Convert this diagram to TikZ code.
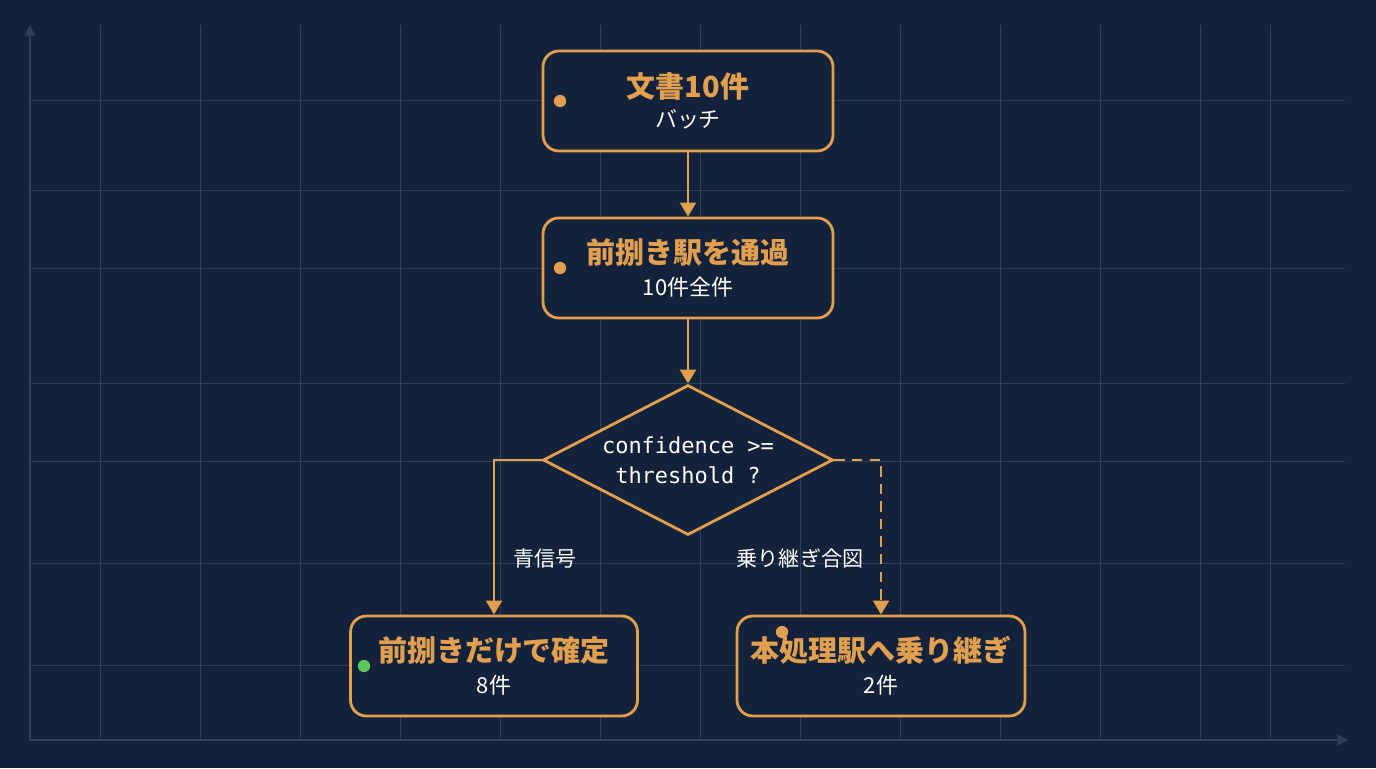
\documentclass[tikz,border=0pt]{standalone}
\usepackage{fontspec}
\setmainfont{Noto Sans CJK JP}
\newfontfamily\monofont{DejaVu Sans Mono}
\usetikzlibrary{shapes.geometric,arrows.meta,positioning}
\definecolor{bgc}{HTML}{14213A}
\definecolor{gridc}{HTML}{2E3F5A}
\definecolor{accent}{HTML}{E0A050}
\definecolor{okc}{HTML}{5CC85C}
\begin{document}
\begin{tikzpicture}[x=0.02cm, y=-0.02cm,
  box/.style={draw=accent, line width=1.6pt, rounded corners=9pt, fill=bgc, minimum width=5.8cm, minimum height=2cm, align=center, text=white},
  dec/.style={draw=accent, line width=1.6pt, diamond, aspect=1.93, fill=bgc, minimum width=5.8cm, minimum height=3cm, inner sep=0pt, align=center, text=white, font=\monofont\fontsize{12.5}{17}\selectfont},
  flow/.style={draw=accent, line width=1.6pt, -{Triangle[length=8pt,width=9pt]}},
  dot/.style={circle, fill=#1, inner sep=0pt, minimum size=7pt},
  lbl/.style={text=white, font=\fontsize{12}{14}\selectfont}]

  \fill[bgc] (0,0) rectangle (1376,768);
  \foreach \gx in {100,200,300,400,500,600,700,800,900,1000,1100,1200,1270}
    \draw[gridc, line width=0.5pt] (\gx,25) -- (\gx,740);
  \foreach \gy in {100,190,268,383,461,563,665}
    \draw[gridc, line width=0.5pt] (30,\gy) -- (1345,\gy);
  \draw[gridc, line width=0.8pt, -{Triangle[length=6pt,width=6pt]}] (30,740) -- (1348,740);
  \draw[gridc, line width=0.8pt, -{Triangle[length=6pt,width=6pt]}] (30,740) -- (30,25);

  \node[box] (batch) at (688,101) {\textcolor{accent}{\fontsize{16.5}{20}\selectfont\bfseries 文書10件}\\[5pt]{\fontsize{12.5}{14}\selectfont バッチ}};
  \node[box] (pre) at (688,268) {\textcolor{accent}{\fontsize{16.5}{20}\selectfont\bfseries 前捌き駅を通過}\\[5pt]{\fontsize{12.5}{14}\selectfont 10件全件}};
  \node[dec] (check) at (688,460) {confidence >=\\threshold ?};
  \node[box, minimum width=5.74cm] (done) at (494,666) {\textcolor{accent}{\fontsize{16.5}{20}\selectfont\bfseries 前捌きだけで確定}\\[5pt]{\fontsize{12.5}{14}\selectfont 8件}};
  \node[box, minimum width=5.76cm] (main) at (881,666) {\textcolor{accent}{\fontsize{16.5}{20}\selectfont\bfseries 本処理駅へ乗り継ぎ}\\[5pt]{\fontsize{12.5}{14}\selectfont 2件}};

  \node[dot=accent] (dbatch) at (560,101) {};
  \node[dot=accent] (dpre) at (560,268) {};
  \node[dot=okc] (ddone) at (364,666) {};
  \node[dot=accent] (dmain) at (782,632) {};

  \draw[flow] (batch) -- (pre);
  \draw[flow] (pre) -- (check);
  \draw[flow] (check.west) -| (done.north);
  \draw[flow, dashed, dash pattern=on 6pt off 4pt] (check.east) -| (main.north);

  \node[lbl] (go) at (545,558) {青信号};
  \node[lbl] (xfer) at (800,558) {乗り継ぎ合図};
\end{tikzpicture}
\end{document}
